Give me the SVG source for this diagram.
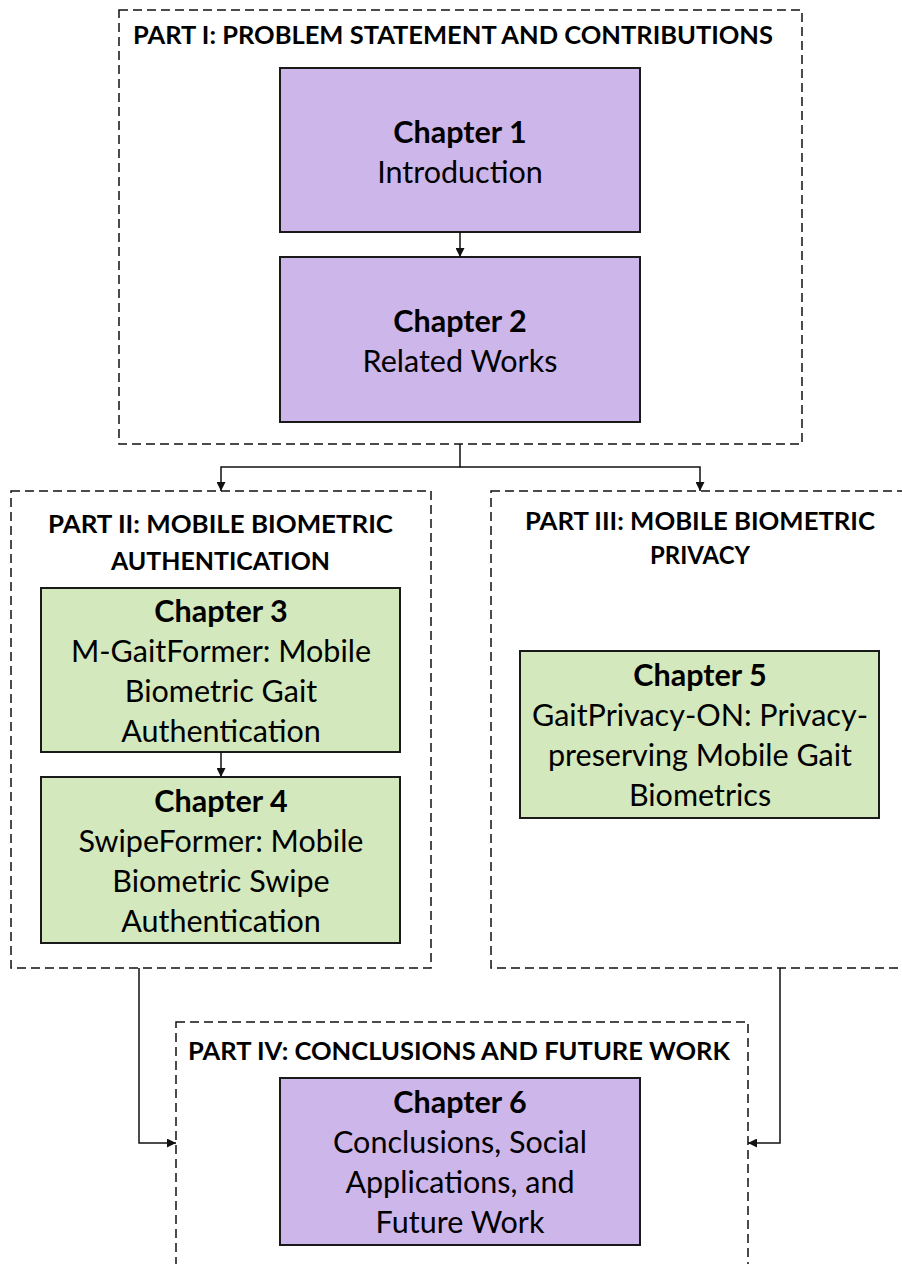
<svg xmlns="http://www.w3.org/2000/svg" width="902" height="1264" viewBox="0 0 902 1264">
  <style>
    .part { fill: #ffffff; stroke: #111111; stroke-width: 1.5; stroke-dasharray: 9 5; }
    .purple { fill: #CDB6EA; stroke: #1a1a1a; stroke-width: 2; }
    .green { fill: #D3E8BC; stroke: #1a1a1a; stroke-width: 2; }
    .title { font-family: Lato, "Liberation Sans", sans-serif; font-weight: bold; font-size: 25px; fill: #000; text-anchor: middle; }
    .head { font-family: Lato, "Liberation Sans", sans-serif; font-weight: bold; font-size: 30.5px; fill: #000; text-anchor: middle; }
    .body { font-family: Lato, "Liberation Sans", sans-serif; font-size: 30.5px; fill: #000; text-anchor: middle; }
    .link { fill: none; stroke: #111111; stroke-width: 1.5; }
  </style>
  <defs>
    <marker id="arrow" viewBox="0 0 10 10" refX="10" refY="5" markerWidth="9" markerHeight="9" markerUnits="userSpaceOnUse" orient="auto">
      <path d="M0,0 L10,5 L0,10 z" fill="#111111"/>
    </marker>
  </defs>
  <rect width="902" height="1264" fill="#ffffff"/>

  <!-- Part I -->
  <g id="part1">
    <rect class="part" x="119" y="10" width="683" height="434"/>
    <text class="title" x="453" y="44" textLength="640" lengthAdjust="spacingAndGlyphs">PART I: PROBLEM STATEMENT AND CONTRIBUTIONS</text>
  </g>
  <g id="chapter1">
    <rect class="purple" x="280" y="68" width="360" height="164"/>
    <text class="head" x="460" y="142.5">Chapter 1</text>
    <text class="body" x="460" y="182.5">Introduction</text>
  </g>
  <g id="chapter2">
    <rect class="purple" x="280" y="257" width="360" height="165"/>
    <text class="head" x="460" y="331.5">Chapter 2</text>
    <text class="body" x="460" y="371.5">Related Works</text>
  </g>

  <!-- Part II -->
  <g id="part2">
    <rect class="part" x="11" y="491" width="420" height="477"/>
    <text class="title" x="220.5" y="533" textLength="345" lengthAdjust="spacingAndGlyphs">PART II: MOBILE BIOMETRIC</text>
    <text class="title" x="220.5" y="570" textLength="219" lengthAdjust="spacingAndGlyphs">AUTHENTICATION</text>
  </g>
  <g id="chapter3">
    <rect class="green" x="41" y="588" width="359" height="164"/>
    <text class="head" x="221" y="621.5">Chapter 3</text>
    <text class="body" x="221" y="661.5">M-GaitFormer: Mobile</text>
    <text class="body" x="221" y="701.5">Biometric Gait</text>
    <text class="body" x="221" y="741.5">Authentication</text>
  </g>
  <g id="chapter4">
    <rect class="green" x="41" y="777" width="359" height="166"/>
    <text class="head" x="221" y="811.5">Chapter 4</text>
    <text class="body" x="221" y="851.5">SwipeFormer: Mobile</text>
    <text class="body" x="221" y="891.5">Biometric Swipe</text>
    <text class="body" x="221" y="931.5">Authentication</text>
  </g>

  <!-- Part III -->
  <g id="part3">
    <rect class="part" x="491" y="491" width="420" height="477"/>
    <text class="title" x="700" y="530" textLength="350" lengthAdjust="spacingAndGlyphs">PART III: MOBILE BIOMETRIC</text>
    <text class="title" x="700" y="564" textLength="100" lengthAdjust="spacingAndGlyphs">PRIVACY</text>
  </g>
  <g id="chapter5">
    <rect class="green" x="520" y="651" width="359" height="167"/>
    <text class="head" x="700" y="685.5">Chapter 5</text>
    <text class="body" x="700" y="725.5">GaitPrivacy-ON: Privacy-</text>
    <text class="body" x="700" y="765.5">preserving Mobile Gait</text>
    <text class="body" x="700" y="805.5">Biometrics</text>
  </g>

  <!-- Part IV -->
  <g id="part4">
    <rect class="part" x="176" y="1022" width="572" height="250"/>
    <text class="title" x="459" y="1060" textLength="542" lengthAdjust="spacingAndGlyphs">PART IV: CONCLUSIONS AND FUTURE WORK</text>
  </g>
  <g id="chapter6">
    <rect class="purple" x="280" y="1078" width="360" height="167"/>
    <text class="head" x="460" y="1112.5">Chapter 6</text>
    <text class="body" x="460" y="1152.5">Conclusions, Social</text>
    <text class="body" x="460" y="1192.5">Applications, and</text>
    <text class="body" x="460" y="1232.5">Future Work</text>
  </g>

  <!-- Connectors -->
  <g id="connectors">
    <path class="link" d="M460,232 V257" marker-end="url(#arrow)"/>
    <path class="link" d="M221,752 V777" marker-end="url(#arrow)"/>
    <path class="link" d="M460,444 V467 H221 V491" marker-end="url(#arrow)"/>
    <path class="link" d="M460,467 H700 V491" marker-end="url(#arrow)"/>
    <path class="link" d="M139,968 V1143 H176" marker-end="url(#arrow)"/>
    <path class="link" d="M780,968 V1143 H748" marker-end="url(#arrow)"/>
  </g>
</svg>
